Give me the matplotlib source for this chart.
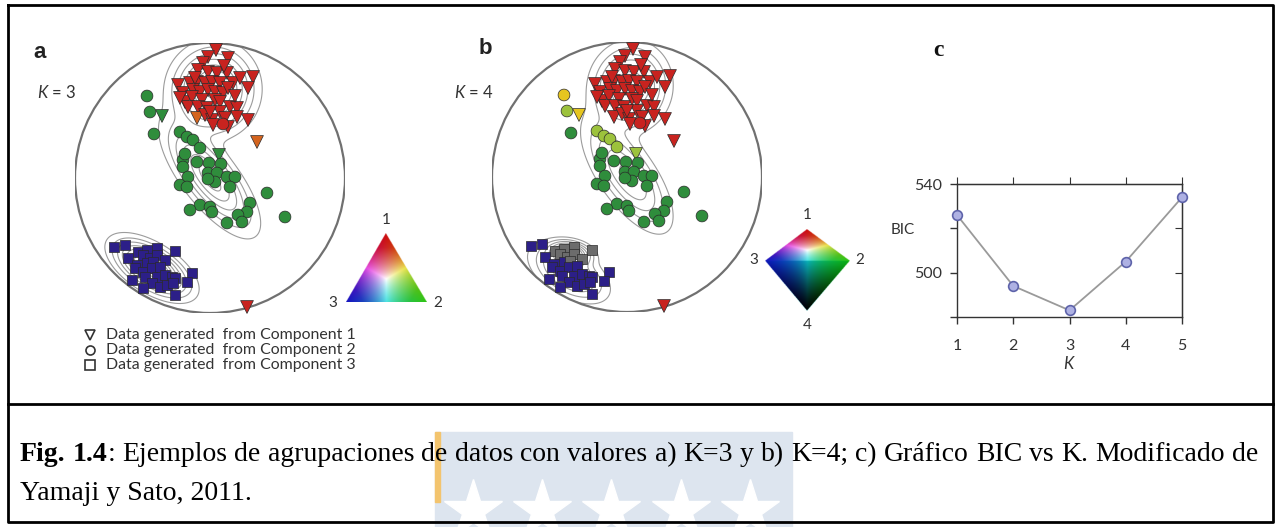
import numpy as np
import matplotlib.pyplot as plt
from matplotlib.patches import Circle, Rectangle

plt.rcParams['font.family'] = ['Lato', 'DejaVu Sans']
plt.rcParams['mathtext.fontset'] = 'custom'
plt.rcParams['mathtext.it'] = 'Lato:italic'
plt.rcParams['mathtext.rm'] = 'Lato'

SERIF = ['Liberation Serif', 'DejaVu Serif']
W, H = 1280, 527
NET_RADIUS = 135

# projected poles (x, y in net units, colour class in panel a, colour class in panel b)
TRIANGLES = [
    (6, 128, 'r', 'r'), (18, 120, 'r', 'r'), (-2, 121, 'r', 'r'), (-7, 115, 'r', 'r'),
    (-12, 108, 'r', 'r'), (-2, 106, 'r', 'r'), (7, 105, 'r', 'r'), (17, 105, 'r', 'r'),
    (43, 101, 'r', 'r'), (-32, 93, 'r', 'r'), (-20, 95, 'r', 'r'), (-13, 96, 'r', 'r'),
    (-5, 95, 'r', 'r'), (2, 96, 'r', 'r'), (10, 95, 'r', 'r'), (23, 95, 'r', 'r'),
    (38, 90, 'r', 'r'), (-27, 85, 'r', 'r'), (-17, 88, 'r', 'r'), (-10, 86, 'r', 'r'),
    (-2, 88, 'r', 'r'), (5, 86, 'r', 'r'), (13, 85, 'r', 'r'), (18, 90, 'r', 'r'),
    (-25, 76, 'r', 'r'), (-18, 81, 'r', 'r'), (-8, 78, 'r', 'r'), (5, 78, 'r', 'r'),
    (10, 76, 'r', 'r'), (-22, 71, 'r', 'r'), (-12, 71, 'r', 'r'), (-3, 70, 'r', 'r'),
    (20, 71, 'r', 'r'), (27, 70, 'r', 'r'), (-13, 60, 'o', 'r'), (-5, 63, 'r', 'r'),
    (2, 58, 'r', 'r'), (10, 66, 'r', 'r'), (18, 51, 'r', 'r'), (27, 61, 'r', 'r'),
    (38, 58, 'r', 'r'), (3, 53, 'r', 'r'), (47, 36, 'o', 'r'), (37, -129, 'r', 'r'),
    (-48, 62, 'g', 'y'), (9, 23, 'g', 'l'), (-15, 100, 'r', 'r'), (14, 112, 'r', 'r'),
    (25, 82, 'r', 'r'), (-30, 80, 'r', 'r'), (0, 66, 'r', 'r'), (15, 60, 'r', 'r'),
    (30, 100, 'r', 'r'),
]
CIRCLES = [
    (-63, 82, 'g', 'y'), (-60, 66, 'g', 'l'), (-56, 44, 'g', 'g'), (-30, 46, 'g', 'l'),
    (-23, 41, 'g', 'l'), (-17, 38, 'g', 'l'), (-10, 30, 'g', 'l'), (-27, 18, 'g', 'g'),
    (-13, 16, 'g', 'g'), (-1, 15, 'g', 'g'), (11, 14, 'g', 'g'), (-27, 11, 'g', 'g'),
    (-22, 1, 'g', 'g'), (-2, 5, 'g', 'g'), (7, 5, 'g', 'g'), (17, 1, 'g', 'g'),
    (25, 1, 'g', 'g'), (5, -4, 'g', 'g'), (-2, -1, 'g', 'g'), (20, -9, 'g', 'g'),
    (-30, -7, 'g', 'g'), (-23, -9, 'g', 'g'), (57, -15, 'g', 'g'), (40, -25, 'g', 'g'),
    (37, -34, 'g', 'g'), (28, -37, 'g', 'g'), (32, -44, 'g', 'g'), (17, -45, 'g', 'g'),
    (75, -39, 'g', 'g'), (-10, -27, 'g', 'g'), (0, -29, 'g', 'g'), (2, -34, 'g', 'g'),
    (-20, -32, 'g', 'g'), (-25, 24, 'g', 'g'), (13, 54, 'r', 'r'),
]
SQUARES = [
    (-96, -69, 'b', 'b'), (-85, -67, 'b', 'b'), (-72, -74, 'b', 'k'), (-63, -72, 'b', 'k'),
    (-53, -70, 'b', 'k'), (-35, -73, 'b', 'k'), (-82, -80, 'b', 'b'), (-67, -77, 'b', 'k'),
    (-60, -80, 'b', 'k'), (-53, -77, 'b', 'k'), (-45, -82, 'b', 'k'), (-73, -87, 'b', 'b'),
    (-63, -85, 'b', 'b'), (-57, -84, 'b', 'k'), (-75, -90, 'b', 'b'), (-67, -94, 'b', 'b'),
    (-58, -90, 'b', 'b'), (-50, -89, 'b', 'b'), (-78, -102, 'b', 'b'), (-65, -99, 'b', 'b'),
    (-53, -99, 'b', 'b'), (-45, -97, 'b', 'b'), (-38, -99, 'b', 'b'), (-35, -100, 'b', 'b'),
    (-18, -95, 'b', 'b'), (-23, -104, 'b', 'b'), (-58, -105, 'b', 'b'), (-67, -110, 'b', 'b'),
    (-50, -109, 'b', 'b'), (-43, -107, 'b', 'b'), (-37, -105, 'b', 'b'), (-35, -117, 'b', 'b'),
]
CLASS_COLORS = {'r': '#c8231f', 'o': '#d4641e', 'g': '#2f8d3c', 'y': '#e6c51f',
                'l': '#9cc23c', 'b': '#2c1f88', 'k': '#6c6c6c'}

# mixture components: mean x, mean y, sd major, sd minor, angle (deg), weight
COMPONENTS_A = [(3, 88, 21, 20, 80, 0.44), (0, 0, 32, 12, -52, 0.29), (-58, -90, 21, 10, -32, 0.27)]
COMPONENTS_B = [(3, 90, 20, 18, 80, 0.43), (0, 2, 32, 13, -55, 0.30),
                (-58, -96, 21, 11, -30, 0.17), (-57, -76, 11, 6, -10, 0.10)]

# colour keys: vertex colours of the component simplex
KEY_COLORS = [(0.80, 0.10, 0.12), (0.45, 0.72, 0.20), (0.20, 0.20, 0.68)]

K_VALUES = [1, 2, 3, 4, 5]
BIC_VALUES = [526, 494, 483, 505, 534]

fig = plt.figure(figsize=(W / 100, H / 100), dpi=100)
canvas = fig.add_axes([0, 0, 1, 1])
canvas.set_xlim(0, W)
canvas.set_ylim(H, 0)
canvas.axis('off')


def mixture_density(components, xx, yy):
    z = np.zeros_like(xx)
    for mx, my, s1, s2, ang, w in components:
        t = np.radians(ang)
        dx, dy = xx - mx, yy - my
        u = dx * np.cos(t) + dy * np.sin(t)
        v = -dx * np.sin(t) + dy * np.cos(t)
        z += w / (2 * np.pi * s1 * s2) * np.exp(-0.5 * ((u / s1) ** 2 + (v / s2) ** 2))
    return z


def draw_net(cx, cy, components, col):
    R = NET_RADIUS
    ax = fig.add_axes([(cx - R) / W, 1 - (cy + R) / H, 2 * R / W, 2 * R / H])
    ax.set_xlim(-R, R)
    ax.set_ylim(-R, R)
    ax.axis('off')
    ring = Circle((0, 0), R, fill=False, ec='#707070', lw=1.6, zorder=3)
    ax.add_patch(ring)
    g = np.linspace(-R, R, 400)
    xx, yy = np.meshgrid(g, g)
    z = mixture_density(components, xx, yy)
    levels = z.max() * np.array([0.04, 0.1, 0.18, 0.28, 0.4, 0.52, 0.64, 0.76, 0.88])
    cs = ax.contour(xx, yy, z, levels=levels, colors='#9c9c9c', linewidths=0.8, zorder=2)
    cs.set_clip_path(ring)
    for marker, pts, size in [('v', TRIANGLES, 85), ('o', CIRCLES, 72), ('s', SQUARES, 42)]:
        xs = [p[0] for p in pts]
        ys = [p[1] for p in pts]
        cols = [CLASS_COLORS[p[col]] for p in pts]
        ax.scatter(xs, ys, s=size, marker=marker, c=cols, edgecolors='#2a2a2a',
                   linewidths=0.5, clip_on=False, zorder=4)
    return ax


draw_net(210, 178, COMPONENTS_A, 2)
draw_net(627, 177, COMPONENTS_B, 3)


def barycentric(px, py, a, b, c):
    det = (b[1] - c[1]) * (a[0] - c[0]) + (c[0] - b[0]) * (a[1] - c[1])
    l1 = ((b[1] - c[1]) * (px - c[0]) + (c[0] - b[0]) * (py - c[1])) / det
    l2 = ((c[1] - a[1]) * (px - c[0]) + (a[0] - c[0]) * (py - c[1])) / det
    return l1, l2, 1 - l1 - l2


def tri_rgb(l1, l2, l3):
    w = np.stack([l1, l2, l3], axis=-1).clip(0, 1)
    m = w.max(axis=-1, keepdims=True)
    pure = w / np.maximum(m, 1e-9) * (1 - 0.2 * (m - 1 / 3) / (2 / 3))
    lin = w @ np.array(KEY_COLORS)
    white = np.clip(1 - (m - 1 / 3) * 2.2, 0, 1)
    lin = lin * (1 - white) + white
    return np.clip(0.6 * pure + 0.4 * lin, 0, 1)


# ternary colour key (panel a)
v1, v2, v3 = (385.7, 233.3), (426.7, 301.7), (346, 301.7)
gx, gy = np.meshgrid(np.linspace(346, 426.7, 240), np.linspace(233.3, 301.7, 200))
l1, l2, l3 = barycentric(gx, gy, v1, v2, v3)
img = np.zeros(gx.shape + (4,))
img[..., :3] = tri_rgb(l1, l2, l3)
img[..., 3] = ((l1 >= 0) & (l2 >= 0) & (l3 >= 0)).astype(float)
canvas.imshow(img, extent=(346, 426.7, 301.7, 233.3), origin='upper', aspect='auto',
              interpolation='bilinear', zorder=2)

# quaternary colour key (panel b)
d1, d2, d3, d4 = (806.7, 229.3), (849.3, 260.7), (765, 260.7), (806.7, 310.7)
gx, gy = np.meshgrid(np.linspace(765, 849.3, 240), np.linspace(229.3, 310.7, 240))
u1, u2, u3 = barycentric(gx, gy, d1, d2, d3)
m2, m3, m4 = barycentric(gx, gy, d2, d3, d4)
upper = (u1 >= 0) & (u2 >= 0) & (u3 >= 0)
lower = (m2 >= 0) & (m3 >= 0) & (m4 >= 0) & ~upper
img = np.zeros(gx.shape + (4,))
img[..., :3] = tri_rgb(u1, u2, u3)
low = np.stack([np.zeros_like(m2), m2, m3], axis=-1).clip(0, 1)
low = low / np.maximum(low.max(axis=-1, keepdims=True), 1e-9)
low = low * np.array([1, 0.75, 0.8]) + np.array([0.05, 0.12, 0.1])
low = low * (1 - np.clip(m4, 0, 1))[..., None] ** 1.2 * 0.8
img[lower, :3] = low[lower]
img[..., 3] = (upper | lower).astype(float)
canvas.imshow(img, extent=(765, 849.3, 310.7, 229.3), origin='upper', aspect='auto',
              interpolation='bilinear', zorder=2)

txt = dict(color='#333333', fontsize=11, ha='center', va='center')
canvas.text(386, 220, '1', **txt)
canvas.text(333, 303, '3', **txt)
canvas.text(438, 303, '2', **txt)
canvas.text(807, 215, '1', **txt)
canvas.text(754, 260, '3', **txt)
canvas.text(860, 260, '2', **txt)
canvas.text(807, 325, '4', **txt)

# panel labels
canvas.text(40, 52, 'a', fontsize=16, fontweight='bold', family=['Liberation Sans'],
            ha='center', va='center', color='#222222')
canvas.text(485, 49, 'b', fontsize=16, fontweight='bold', family=['Liberation Sans'],
            ha='center', va='center', color='#222222')
canvas.text(938, 50, 'c', fontsize=17, fontweight='bold', family=SERIF,
            ha='center', va='center', color='#111111')
canvas.text(37, 92, r'$K$ = 3', fontsize=12, ha='left', va='center', color='#333333')
canvas.text(454, 92, r'$K$ = 4', fontsize=12, ha='left', va='center', color='#333333')

# legend
for y, mk, label in [(335, 'v', 'Data generated  from Component 1'),
                     (350, 'o', 'Data generated  from Component 2'),
                     (365, 's', 'Data generated  from Component 3')]:
    canvas.plot(90, y, marker=mk, mfc='none', mec='#333333', ms=6.5, mew=1.2)
    canvas.text(106, y, label, fontsize=11.4, ha='left', va='center', color='#333333')

# BIC panel
axc = fig.add_axes([957 / W, 1 - 317 / H, 225 / W, 133 / H])
axc.plot(K_VALUES, BIC_VALUES, color='#9a9a9a', lw=1.3, marker='o', ms=7,
         mfc='#aeb1e3', mec='#5e63aa', mew=1.2, clip_on=False, zorder=3)
axc.set_xlim(1, 5)
axc.set_ylim(480, 540)
axc.set_xticks(K_VALUES)
axc.set_yticks([480, 500, 520, 540])
axc.set_yticklabels(['', '500', '', '540'])
axc.tick_params(direction='out', length=5, width=1, color='#333333', labelsize=11.5,
                labelcolor='#333333', pad=6)
axc.tick_params(axis='x', pad=11)
for s in axc.spines.values():
    s.set_color('#333333')
    s.set_linewidth(1)
top = axc.secondary_xaxis('top')
top.set_xticks(K_VALUES)
top.set_xticklabels([])
top.tick_params(direction='out', length=5, color='#333333')
right = axc.secondary_yaxis('right')
right.set_yticks([500, 520])
right.set_yticklabels([])
right.tick_params(direction='in', length=5, color='#333333')
axc.set_xlabel(r'$K$', fontsize=12, color='#333333', labelpad=1)
axc.text(-0.24, 0.655, 'BIC', transform=axc.transAxes, fontsize=11, ha='center',
         va='center', color='#333333')

# frame
canvas.plot([8, 1273, 1273, 8, 8], [5, 5, 522, 522, 5], color='black', lw=2, zorder=5)
canvas.plot([8, 1273], [404, 404], color='black', lw=2, zorder=5)

# caption (justified first line)
line1 = [[('Fig.', 'bold')], [('1.4', 'bold'), (':', 'normal')]] + \
    [[(w, 'normal')] for w in ('Ejemplos de agrupaciones de datos con valores a) K=3 y b) '
                               'K=4; c) Gráfico BIC vs K. Modificado de').split()]
items = []
for word in line1:
    items.append([canvas.text(0, 461, t, fontsize=20, fontweight=wt, family=SERIF,
                              va='baseline', ha='left', color='black', zorder=3)
                  for t, wt in word])
renderer = fig.canvas.get_renderer()
widths = [[p.get_window_extent(renderer).width for p in ps] for ps in items]
gap = (1258 - 20 - sum(sum(w) for w in widths)) / (len(items) - 1)
x = 20
starts = []
for ps, ws in zip(items, widths):
    starts.append(x)
    for p, w in zip(ps, ws):
        p.set_x(x)
        x += w
    x += gap
canvas.text(20, 500, 'Yamaji y Sato, 2011.', fontsize=20, family=SERIF, va='baseline',
            ha='left', color='black', zorder=3)

# watermark behind the caption, from inside the second "de" to just past "b)"
wm_left = starts[5] + widths[5][0] * 0.5
wm_right = starts[12] + widths[12][0] + 8
canvas.add_patch(Rectangle((wm_left, 432), wm_right - wm_left, 95, color='#dde5ef', zorder=0))
canvas.add_patch(Rectangle((wm_left, 432), 5, 70, color='#f3c46e', zorder=0))
star_x = np.linspace(wm_left + 38, wm_right - 42, 5)
canvas.plot(star_x, [510] * 5, ls='none', marker='*', ms=44, color='white', zorder=1)

fig.savefig('out.png', dpi=100)
